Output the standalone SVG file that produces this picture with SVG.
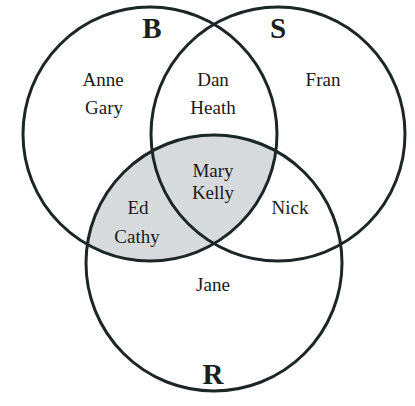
<svg xmlns="http://www.w3.org/2000/svg" width="415" height="406" viewBox="0 0 415 406">
<style>
.c{fill:none;stroke:#1c2626;stroke-width:3}
.t{font-family:"Liberation Serif",serif;font-size:19px;fill:#1a1a1a;text-anchor:middle}
.L{font-family:"Liberation Serif",serif;font-size:29px;font-weight:bold;fill:#1a2020;text-anchor:middle}
</style>
<defs>
<clipPath id="clipB"><circle cx="150" cy="134" r="127"/></clipPath>
</defs>
<rect width="415" height="406" fill="#ffffff"/>
<circle id="shade" cx="214" cy="263" r="128" fill="#d6dadd" clip-path="url(#clipB)"/>
<g id="B"><circle class="c" cx="150" cy="134" r="127"/><text class="L" x="152" y="38">B</text></g>
<g id="S"><circle class="c" cx="278" cy="134" r="127"/><text class="L" x="278" y="38">S</text></g>
<g id="R"><circle class="c" cx="214" cy="263" r="128"/><text class="L" x="213" y="384">R</text></g>
<g id="labels">
<text class="t" x="103" y="86">Anne</text>
<text class="t" x="104" y="114">Gary</text>
<text class="t" x="213" y="86">Dan</text>
<text class="t" x="213" y="114">Heath</text>
<text class="t" x="323" y="86">Fran</text>
<text class="t" x="213" y="177">Mary</text>
<text class="t" x="213" y="199">Kelly</text>
<text class="t" x="138" y="214">Ed</text>
<text class="t" x="137" y="243">Cathy</text>
<text class="t" x="290" y="214">Nick</text>
<text class="t" x="213" y="291">Jane</text>
</g>
</svg>
